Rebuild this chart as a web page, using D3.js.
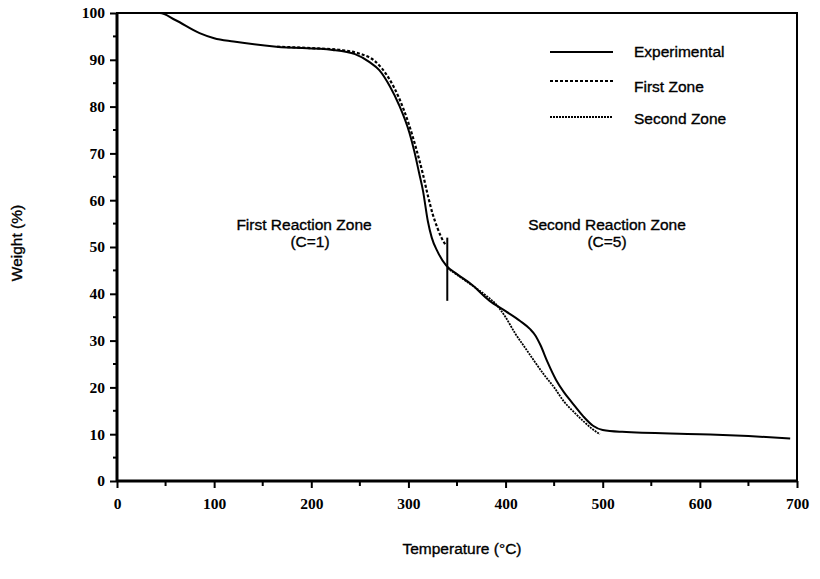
<!DOCTYPE html>
<html><head><meta charset="utf-8">
<script src="https://cdn.jsdelivr.net/npm/d3@7"></script>
<style>body{margin:0;background:#fff}svg{display:block}</style>
</head><body>
<svg id="c" width="820" height="579"></svg>
<script>
// Data
const expT = [0,44,60,85,100,120,164,222,245,260,270,281,290,301,306,311,315,320,324,330,339,350,365,383,400,415,425,431,436,443,452,460,469,480,490,500,520,600,650,693];
const expW = [100,100,98.5,95.7,94.6,93.9,92.8,92.1,91.2,89.5,87.8,84.3,80.5,74.4,70.5,65.8,62,55.5,52,49,46,44.2,42,38.6,36.3,34.2,32.5,31,29,25.5,21.6,19,16.6,13.8,11.8,10.9,10.5,10.0,9.6,9.1];
const z1T = [165,200,230,250,265,280,290,300,308,315,320,325,330,334,338];
const z1W = [92.8,92.5,92.1,91.3,89.8,86,82,76.5,71,65.5,61,57,54,52,50.5];
const z2T = [340,360,380,390,400,410,420,430,440,450,460,470,480,490,497];
const z2W = [45.5,42.6,39.6,37.8,35,31.5,28.5,25.5,22.6,20,17,14.8,12.8,11,10];
const xTicks = [0,100,200,300,400,500,600,700];
const yTicks = [0,10,20,30,40,50,60,70,80,90,100];
const legendLabels = ["Experimental","First Zone","Second Zone"];
const zoneLabels = [["First Reaction Zone","(C=1)"],["Second Reaction Zone","(C=5)"]];
const divider = {t:340, w0:38.5, w1:52};

const svg = d3.select("#c");
const x = d3.scaleLinear().domain([0,700]).range([117,797]);
const y = d3.scaleLinear().domain([0,100]).range([481,13]);
const sans = t => t.attr("font-family","Liberation Sans").attr("font-size",15.5)
  .attr("fill","#000").attr("stroke","#000").attr("stroke-width",0.35);

// frame
svg.append("rect").attr("x",x(0)).attr("y",y(100)).attr("width",x(700)-x(0)).attr("height",y(0)-y(100))
  .attr("fill","none").attr("stroke","#000").attr("stroke-width",2);
svg.append("line").attr("x1",x(0)).attr("x2",x(0)).attr("y1",y(100)).attr("y2",y(0)).attr("stroke","#000").attr("stroke-width",3);
svg.append("line").attr("x1",x(0)).attr("x2",x(700)).attr("y1",y(0)).attr("y2",y(0)).attr("stroke","#000").attr("stroke-width",3);

// y axis
const ya = svg.append("g").attr("transform",`translate(${x(0)},0)`)
  .call(d3.axisLeft(y).tickValues(yTicks).tickSize(7).tickPadding(5).tickFormat(d3.format("d")));
ya.select(".domain").remove();
ya.selectAll(".tick line").attr("stroke-width",2);
ya.selectAll("text").attr("font-family","Liberation Serif").attr("font-weight","bold").attr("font-size",15.5).attr("fill","#000");
const yMinor = d3.range(5,100,10);
svg.append("g").selectAll("line").data(yMinor).join("line")
  .attr("x1",x(0)-4).attr("x2",x(0)).attr("y1",d=>y(d)).attr("y2",d=>y(d)).attr("stroke","#000").attr("stroke-width",2);

// x axis
const xa = svg.append("g").attr("transform",`translate(0,${y(0)})`)
  .call(d3.axisBottom(x).tickValues(xTicks).tickSize(7).tickPadding(10).tickFormat(d3.format("d")));
xa.select(".domain").remove();
xa.selectAll(".tick line").attr("stroke-width",2);
xa.selectAll("text").attr("font-family","Liberation Serif").attr("font-weight","bold").attr("font-size",15.5).attr("fill","#000");
const xMinor = d3.range(50,700,100);
svg.append("g").selectAll("line").data(xMinor).join("line")
  .attr("x1",d=>x(d)).attr("x2",d=>x(d)).attr("y1",y(0)).attr("y2",y(0)+5).attr("stroke","#000").attr("stroke-width",2);

// titles
sans(svg.append("text").attr("x",462).attr("y",554).attr("text-anchor","middle")).text("Temperature (°C)");
sans(svg.append("text").attr("transform","translate(22,243) rotate(-90)").attr("text-anchor","middle")).text("Weight (%)");

// lines
const line = d3.line().x(d=>x(d[0])).y(d=>y(d[1])).curve(d3.curveMonotoneX);
const series = [
  {T:expT,W:expW,dash:null,sw:2},
  {T:z1T,W:z1W,dash:"3,2",sw:2.2},
  {T:z2T,W:z2W,dash:"2,1",sw:1.8}
];
series.forEach(s=>{
  svg.append("path").datum(d3.zip(s.T,s.W)).attr("d",line).attr("fill","none")
    .attr("stroke","#000").attr("stroke-width",s.sw).attr("stroke-dasharray",s.dash);
});

// divider
svg.append("line").attr("x1",x(divider.t)).attr("x2",x(divider.t)).attr("y1",y(divider.w0)).attr("y2",y(divider.w1))
  .attr("stroke","#000").attr("stroke-width",2);

// zone labels
const zl = [[304,230,310],[607,230,607]];
zoneLabels.forEach((z,i)=>{
  sans(svg.append("text").attr("x",zl[i][0]).attr("y",zl[i][1]).attr("text-anchor","middle")).text(z[0]);
  sans(svg.append("text").attr("x",zl[i][2]).attr("y",zl[i][1]+17).attr("text-anchor","middle")).text(z[1]);
});

// legend
const lg = [[52,57,null,2],[81,92,"3,2",2.2],[117,124,"2,1",1.8]];
legendLabels.forEach((l,i)=>{
  svg.append("line").attr("x1",550).attr("x2",613).attr("y1",lg[i][0]).attr("y2",lg[i][0])
    .attr("stroke","#000").attr("stroke-width",lg[i][3]).attr("stroke-dasharray",lg[i][2]);
  sans(svg.append("text").attr("x",634).attr("y",lg[i][1])).text(l);
});
</script>
</body></html>
